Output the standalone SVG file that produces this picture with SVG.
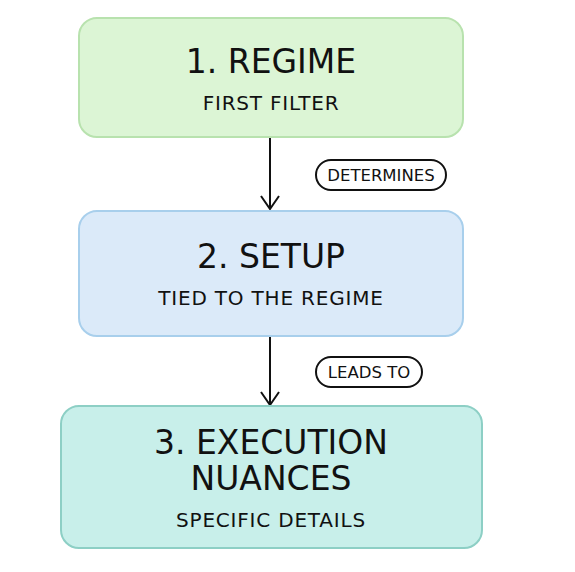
<svg xmlns="http://www.w3.org/2000/svg" width="575" height="572" viewBox="0 0 575 572">
<defs>
<style>
.t{font-family:"DejaVu Sans","Liberation Sans",sans-serif;fill:#111;text-anchor:middle}
.h{font-size:33px}
.s{font-size:20px;letter-spacing:0.8px}
.l{font-size:16.5px}
.pill{fill:#fff;stroke:#111;stroke-width:2}
.c{stroke:#111;stroke-width:2;fill:none}
</style>
</defs>
<rect width="575" height="572" fill="#fff"/>
<g id="connectors">
<line class="c" x1="270" y1="137" x2="270" y2="209"/>
<line class="c" x1="270" y1="336" x2="270" y2="405"/>
<path class="c" d="M261 196 L270 209 L279 196"/>
<path class="c" d="M261 392 L270 405 L279 392"/>
<rect class="pill" x="316" y="160" width="130" height="30" rx="15"/>
<text class="t l" x="381" y="181">DETERMINES</text>
<rect class="pill" x="316" y="357" width="106" height="30" rx="15"/>
<text class="t l" x="369" y="378">LEADS TO</text>
</g>
<g id="node1">
<rect x="79" y="18" width="384" height="119" rx="18" fill="#dcf5d5" stroke="#b8e2ae" stroke-width="2"/>
<text class="t h" x="271" y="73">1. REGIME</text>
<text class="t s" x="271" y="110">FIRST FILTER</text>
</g>
<g id="node2">
<rect x="79" y="211" width="384" height="125" rx="18" fill="#dbeaf9" stroke="#a8cfec" stroke-width="2"/>
<text class="t h" x="271" y="268">2. SETUP</text>
<text class="t s" x="271" y="305">TIED TO THE REGIME</text>
</g>
<g id="node3">
<rect x="61" y="406" width="421" height="142" rx="18" fill="#c8efea" stroke="#8dcfc5" stroke-width="2"/>
<text class="t h" x="271" y="454">3. EXECUTION</text>
<text class="t h" x="271" y="490">NUANCES</text>
<text class="t s" x="271" y="527">SPECIFIC DETAILS</text>
</g>
</svg>
